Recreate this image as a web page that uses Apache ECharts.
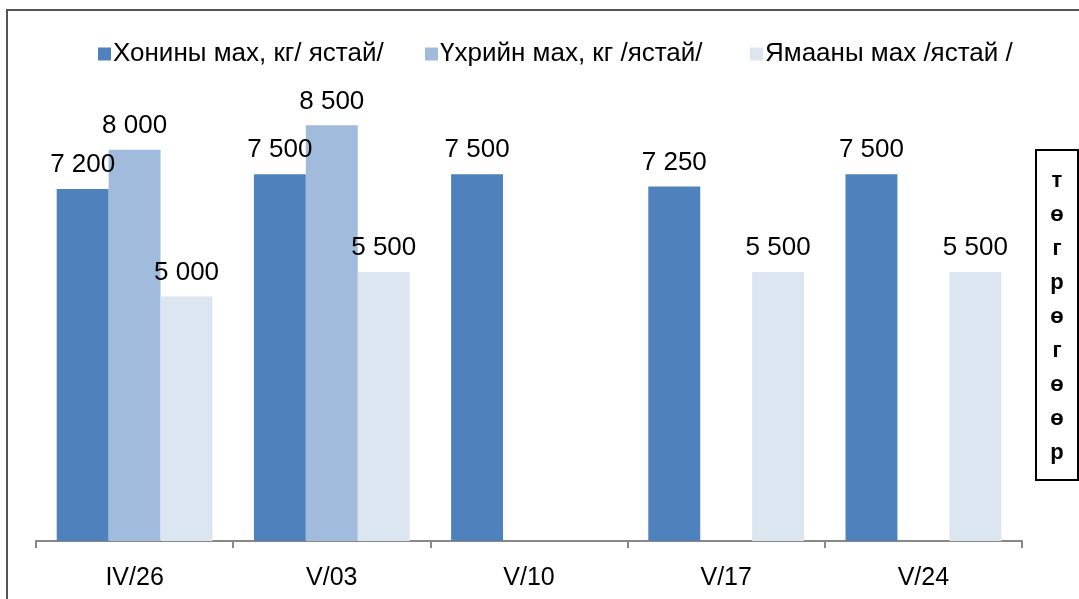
<!DOCTYPE html>
<html>
<head>
<meta charset="utf-8">
<script src="https://cdn.jsdelivr.net/npm/echarts@6/dist/echarts.min.js"></script>
<style>
html,body{margin:0;padding:0;background:#fff;}
#chart{width:1079px;height:599px;}
</style>
</head>
<body>
<div id="chart"></div>
<script>
const categories = ['IV/26', 'V/03', 'V/10', 'V/17', 'V/24'];
const seriesNames = ['Хонины мах, кг/ ястай/', 'Үхрийн мах, кг /ястай/', 'Ямааны мах /ястай /'];
const mutton = [7200, 7500, 7500, 7250, 7500];
const beef = [8000, 8500, null, null, null];
const goat = [5000, 5500, null, 5500, 5500];
const unitLabel = 'төгрөгөөр';

const colors = ['#4F81BD', '#A1BBDC', '#DCE6F1'];
const FONT = '"Liberation Sans", Arial, sans-serif';

function fmt(v) {
  return String(v).replace(/\B(?=(\d{3})+(?!\d))/g, ' ');
}

const chart = echarts.init(document.getElementById('chart'));
const dataSets = [mutton, beef, goat];
const legendLefts = [93, 420, 745];
chart.setOption({
  animation: false,
  backgroundColor: '#fff',
  color: colors,
  legend: seriesNames.map((n, i) => ({
    top: 36,
    left: legendLefts[i],
    itemWidth: 13,
    itemHeight: 13,
    itemGap: 30,
    icon: 'rect',
    textStyle: { fontFamily: FONT, fontSize: 26, color: '#000', padding: [0, 0, 0, -3] },
    data: [n]
  })),
  grid: { left: 36, right: 57, top: 52, bottom: 58 },
  xAxis: {
    type: 'category',
    data: categories,
    axisLine: { lineStyle: { color: '#888', width: 2 } },
    axisTick: { show: true, length: 7, lineStyle: { color: '#888', width: 2 } },
    axisLabel: { fontFamily: FONT, fontSize: 25, color: '#000', margin: 25 }
  },
  yAxis: {
    type: 'value', min: 0, max: 10000, show: false,
    splitLine: { show: false }
  },
  series: dataSets.map((d, i) => ({
    name: seriesNames[i],
    type: 'bar',
    data: d,
    barGap: '0%',
    barCategoryGap: '21%',
    itemStyle: { color: colors[i] },
    label: {
      show: true,
      position: 'top',
      distance: 11,
      fontFamily: FONT,
      fontSize: 26,
      color: '#000',
      formatter: p => fmt(p.value)
    }
  })),
  graphic: [
    { type: 'rect', shape: { x: 7, y: 10, width: 1200, height: 800 },
      style: { fill: 'none', stroke: '#555', lineWidth: 2 }, silent: true },
    { type: 'rect', shape: { x: 1036, y: 150, width: 42, height: 330 },
      style: { fill: '#fff', stroke: '#000', lineWidth: 2 } },
    { type: 'text', x: 1057, y: 164,
      style: { text: unitLabel.split('').join('\n'), font: 'bold 22px ' + FONT,
        lineHeight: 34, align: 'center', verticalAlign: 'top', fill: '#000' } }
  ]
});
</script>
</body>
</html>
